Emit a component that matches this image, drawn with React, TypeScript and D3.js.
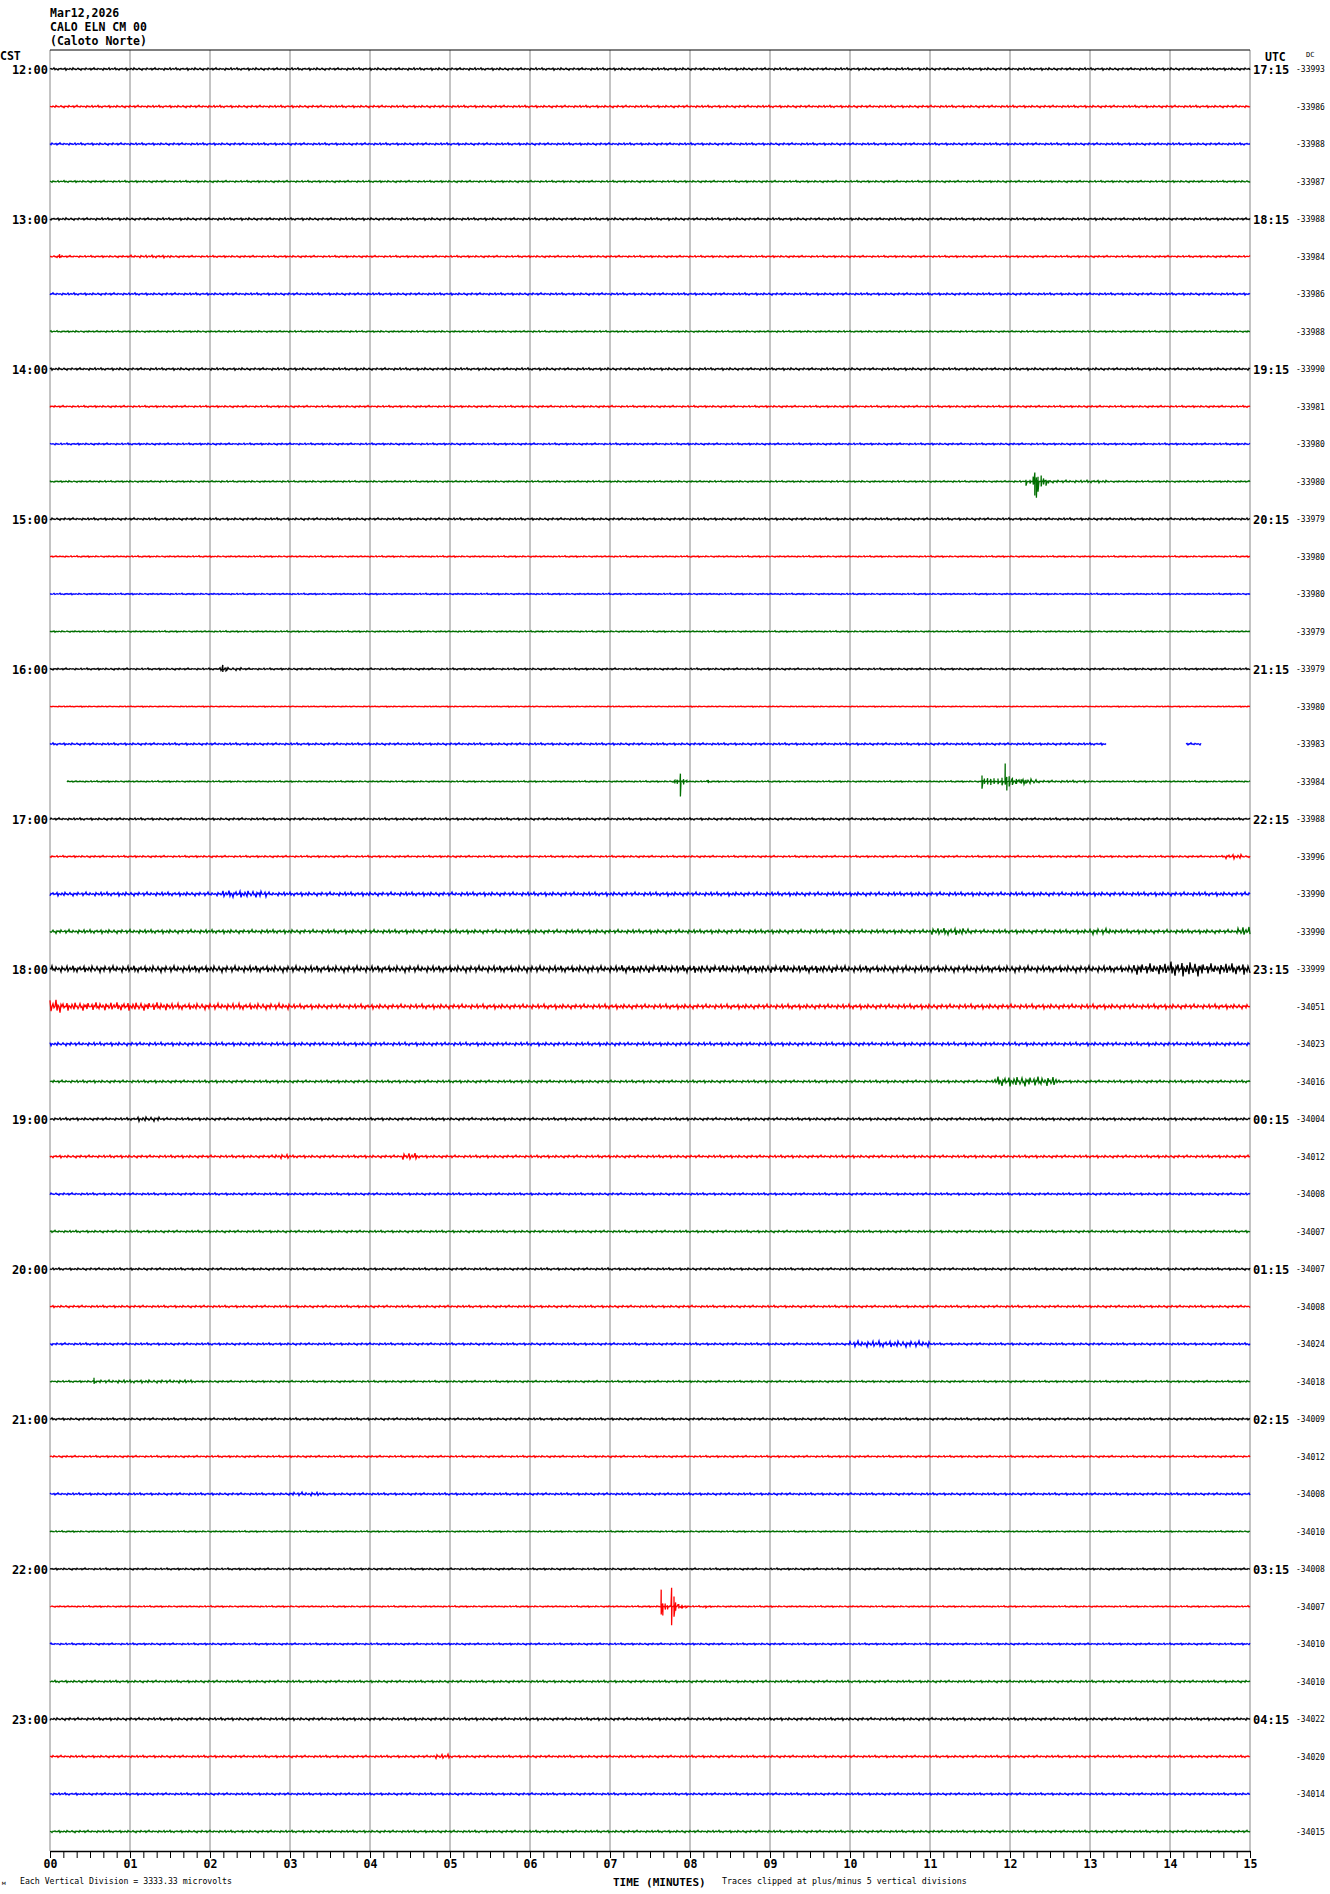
import * as d3 from "d3";
import { useRef, useEffect } from "react";

// header / labels
const STATION_LINES = ["Mar12,2026", "CALO ELN CM 00", "(Caloto Norte)"];
const CST_HOURS = ["12:00", "13:00", "14:00", "15:00", "16:00", "17:00", "18:00", "19:00", "20:00", "21:00", "22:00", "23:00"];
const UTC_HOURS = ["17:15", "18:15", "19:15", "20:15", "21:15", "22:15", "23:15", "00:15", "01:15", "02:15", "03:15", "04:15"];
const MINUTE_LABELS = ["00", "01", "02", "03", "04", "05", "06", "07", "08", "09", "10", "11", "12", "13", "14", "15"];

// DC offset printed at the end of each 15 min line
const DC_VALUES = [
  -33993, -33986, -33988, -33987, -33988, -33984, -33986, -33988,
  -33990, -33981, -33980, -33980, -33979, -33980, -33980, -33979,
  -33979, -33980, -33983, -33984, -33988, -33996, -33990, -33990,
  -33999, -34051, -34023, -34016, -34004, -34012, -34008, -34007,
  -34007, -34008, -34024, -34018, -34009, -34012, -34008, -34010,
  -34008, -34007, -34010, -34010, -34022, -34020, -34014, -34015,
];

// background noise level of each line, in vertical divisions
const ROW_NOISE = [
  0.32, 0.3, 0.3, 0.25, 0.32, 0.25, 0.3, 0.22,
  0.32, 0.25, 0.25, 0.22, 0.3, 0.2, 0.2, 0.2,
  0.25, 0.15, 0.3, 0.2, 0.3, 0.25, 0.5, 0.5,
  0.85, 0.6, 0.45, 0.35, 0.35, 0.35, 0.3, 0.3,
  0.3, 0.3, 0.3, 0.25, 0.3, 0.25, 0.3, 0.2,
  0.25, 0.2, 0.25, 0.3, 0.35, 0.3, 0.3, 0.3,
];

// noisier stretches: [row, from minute, to minute, level in divisions]
const BURSTS: [number, number, number, number][] = [
  [5, 1.0, 1.5, 0.35],
  [11, 12.5, 13.2, 0.35],
  [16, 2.1, 2.4, 0.4],
  [19, 12.0, 12.35, 0.7],
  [19, 12.35, 13.0, 0.3],
  [21, 14.7, 14.9, 0.6],
  [22, 2.16, 2.7, 0.9],
  [23, 11.0, 11.5, 0.9],
  [23, 13.0, 13.3, 0.8],
  [23, 14.85, 15, 1.2],
  [24, 7.1, 9.9, 1.0],
  [24, 13.5, 15, 1.5],
  [24, 14.0, 14.4, 2.0],
  [25, 0, 0.15, 1.8],
  [25, 0.15, 1.5, 1.1],
  [25, 1.5, 3, 0.8],
  [27, 11.8, 12.6, 1.3],
  [28, 1.1, 1.4, 0.6],
  [29, 2.8, 3.0, 0.6],
  [29, 4.4, 4.6, 0.9],
  [34, 10.0, 11.0, 0.8],
  [35, 0.6, 1.8, 0.4],
  [38, 3.0, 3.4, 0.5],
  [41, 7.8, 7.95, 0.5],
  [45, 4.8, 5.0, 0.6],
];

// individual event swings: [row, minute, up, down] in divisions
const SPIKES: [number, number, number, number][] = [
  [5, 0.12, 0.6, -0.4],
  [11, 12.2, 0.5, -1.1], [11, 12.25, 0.5, -0.5], [11, 12.29, 1.3, -0.8], [11, 12.31, 2.4, -3.7],
  [11, 12.33, 1.1, -4.3], [11, 12.35, 1.3, -2.7], [11, 12.39, 1.6, -1.3], [11, 12.42, 0.8, -0.8],
  [11, 12.45, 0.5, -1.1], [11, 12.48, 0.3, -0.5],
  [16, 2.16, 1.1, -0.8], [16, 2.2, 0.4, -0.5],
  [19, 7.81, 0.3, -0.5], [19, 7.84, 0.5, -0.6], [19, 7.88, 2.1, -4.0], [19, 7.92, 0.6, -0.8],
  [19, 7.96, 0.3, -0.3], [19, 8.23, 0.4, -0.4],
  [19, 11.65, 1.6, -1.9], [19, 11.68, 0.8, -0.6], [19, 11.72, 0.9, -0.8], [19, 11.76, 0.7, -0.9],
  [19, 11.8, 0.9, -0.6], [19, 11.85, 0.8, -0.7], [19, 11.9, 1.0, -1.0], [19, 11.94, 4.8, -0.8],
  [19, 11.96, 1.2, -2.4], [19, 11.99, 1.4, -1.3], [19, 12.03, 0.8, -0.9], [19, 12.08, 0.7, -0.6],
  [19, 12.14, 0.6, -0.5], [19, 12.2, 0.5, -0.4],
  [35, 0.55, 1.0, -0.6],
  [41, 7.64, 4.5, -2.1], [41, 7.66, 0.8, -2.4], [41, 7.69, 0.8, -0.8], [41, 7.72, 0.3, -0.8],
  [41, 7.77, 5.1, -5.1], [41, 7.8, 2.7, -2.7], [41, 7.82, 1.1, -1.1], [41, 7.86, 0.5, -0.5],
  [41, 7.9, 0.5, -0.5], [41, 7.95, 0.3, -0.3], [41, 8.2, 0.3, -0.3],
];

// no data: [row, from minute, to minute]
const GAPS: [number, number, number][] = [
  [18, 13.21, 14.19],
  [18, 14.39, 15],
  [19, 0, 0.21],
];

// fixed wiggle used to texture the noise
const NOISE_SHAPE = [
  0, 0.4, -0.2, 0, 1, -0.6, 0.2, 0, -0.9, 0.3, 0, 0.6, -0.3, 0, 0, 0.8, -1, 0.2, 0, -0.4,
  0.5, 0, -0.7, 0.9, 0, 0.1, -0.5, 0, 0.7, -0.2, 0, -1, 0.4, 0, 0.3, -0.6, 0.8, 0, -0.1, 0,
  0.5, -0.8, 0.2, 0, 1, -0.3, 0, -0.5, 0.6, 0, -0.2, 0.3, 0, -0.9, 0.7, 0, 0.2, -0.4, 0, 0.9, -0.7,
];

const COLORS = ["#000000", "#ff0000", "#0000ff", "#006e00"];
const MONO = "'DejaVu Sans Mono', monospace";

type Pt = { t: number; v: number; ok: boolean };

function rowSamples(row: number, perMin: number): Pt[] {
  const pts: Pt[] = [];
  const bursts = BURSTS.filter(b => b[0] === row);
  const spikes = SPIKES.filter(s => s[0] === row);
  const gaps = GAPS.filter(g => g[0] === row);
  const n = 15 * perMin;
  for (let i = 0; i <= n; i++) {
    const t = i / perMin;
    let amp = ROW_NOISE[row];
    bursts.forEach(b => { if (t >= b[1] && t <= b[2]) amp = Math.max(amp, b[3]); });
    const ok = !gaps.some(g => t >= g[1] && t <= g[2]);
    const v = Math.max(-5, Math.min(5, amp * NOISE_SHAPE[(i + row * 17) % NOISE_SHAPE.length]));
    pts.push({ t, v, ok });
    spikes.forEach(s => {
      if (s[1] >= t && s[1] < t + 1 / perMin) {
        pts.push({ t: s[1], v: Math.min(5, s[2]), ok });
        pts.push({ t: s[1], v: Math.max(-5, s[3]), ok });
      }
    });
  }
  return pts;
}

const App = () => {
  const width = 1330;
  const height = 1894;
  const plotLeft = 50;
  const plotRight = 1250;
  const plotTop = 50;
  const axisY = 1851;

  const gMinor = useRef<SVGGElement>(null);
  const gMajor = useRef<SVGGElement>(null);

  const x = d3.scaleLinear().domain([0, 15]).range([plotLeft, plotRight]);
  const rowY = d3.scaleLinear().domain([0, 47]).range([69, 1831.5]);
  const amp = d3.scaleLinear().domain([-5, 5]).range([18.75, -18.75]);

  const rows = d3.range(48);

  useEffect(() => {
    if (gMinor.current) {
      d3.select(gMinor.current)
        .call(d3.axisBottom(x).tickValues(d3.range(0, 90 + 1).map(d => d / 6)).tickSize(7).tickSizeOuter(0).tickFormat(() => ""))
        .call(g => g.select(".domain").attr("stroke", "#000").attr("stroke-width", 1.5))
        .call(g => g.selectAll(".tick line").attr("stroke", "#000"));
    }
    if (gMajor.current) {
      d3.select(gMajor.current)
        .call(d3.axisBottom(x).tickValues(d3.range(16)).tickSize(7).tickSizeOuter(0).tickFormat((d, i) => MINUTE_LABELS[i]))
        .call(g => g.select(".domain").remove())
        .call(g => g.selectAll(".tick line").attr("stroke", "#000"))
        .call(g => g.selectAll(".tick text")
          .attr("font-family", MONO).attr("font-weight", "bold").attr("font-size", 11.5)
          .attr("fill", "#000").attr("y", 9).attr("dy", "0.71em"));
    }
  }, [x]);

  return (
    <svg width={width} height={height} style={{ position: "absolute", left: 0, top: 0, background: "#fff" }}>
      <rect width={width} height={height} fill="#fff" />
      <g fontFamily={MONO} fontWeight="bold" fontSize={11.5}>
        {STATION_LINES.map((s, i) => (
          <text key={s} x={plotLeft} y={17 + i * 14}>{s}</text>
        ))}
        <text x={0} y={60}>CST</text>
        <text x={1265} y={61}>UTC</text>
      </g>
      <text x={1306} y={57} fontFamily={MONO} fontSize={7}>DC</text>

      {/* minute grid */}
      <g stroke="#888" strokeWidth={1}>
        {d3.range(16).map(m => (
          <line key={m} x1={x(m)} x2={x(m)} y1={plotTop} y2={axisY} />
        ))}
      </g>
      <line x1={plotLeft} x2={plotRight} y1={plotTop} y2={plotTop} stroke="#000" strokeWidth={1.2} />

      {/* traces */}
      {rows.map(r => {
        const base = rowY(r);
        const line = d3.line<Pt>()
          .defined(p => p.ok)
          .x(p => x(p.t))
          .y(p => base + amp(p.v));
        return (
          <path key={r} d={line(rowSamples(r, 80)) || ""} fill="none"
            stroke={COLORS[r % 4]} strokeWidth={1.3} />
        );
      })}

      {/* hour labels */}
      <g fontFamily={MONO} fontWeight="bold" fontSize={12}>
        {CST_HOURS.map((h, i) => (
          <text key={h} x={48} y={rowY(i * 4) + 5} textAnchor="end">{h}</text>
        ))}
        {UTC_HOURS.map((h, i) => (
          <text key={h} x={1253} y={rowY(i * 4) + 5}>{h}</text>
        ))}
      </g>
      <g fontFamily={MONO} fontSize={8}>
        {DC_VALUES.map((v, i) => (
          <text key={i} x={1296} y={rowY(i) + 3}>{v}</text>
        ))}
      </g>

      {/* time axis */}
      <g ref={gMinor} transform={`translate(0,${axisY})`} />
      <g ref={gMajor} transform={`translate(0,${axisY})`} />

      <text x={2} y={1885} fontFamily={MONO} fontSize={6}>м</text>
      <text x={20} y={1884} fontFamily={MONO} fontSize={8.2}>Each Vertical Division = 3333.33 microvolts</text>
      <text x={613} y={1886} fontFamily={MONO} fontWeight="bold" fontSize={11}>TIME (MINUTES)</text>
      <text x={722} y={1884} fontFamily={MONO} fontSize={8.3}>Traces clipped at plus/minus 5 vertical divisions</text>
    </svg>
  );
};

export default App;
